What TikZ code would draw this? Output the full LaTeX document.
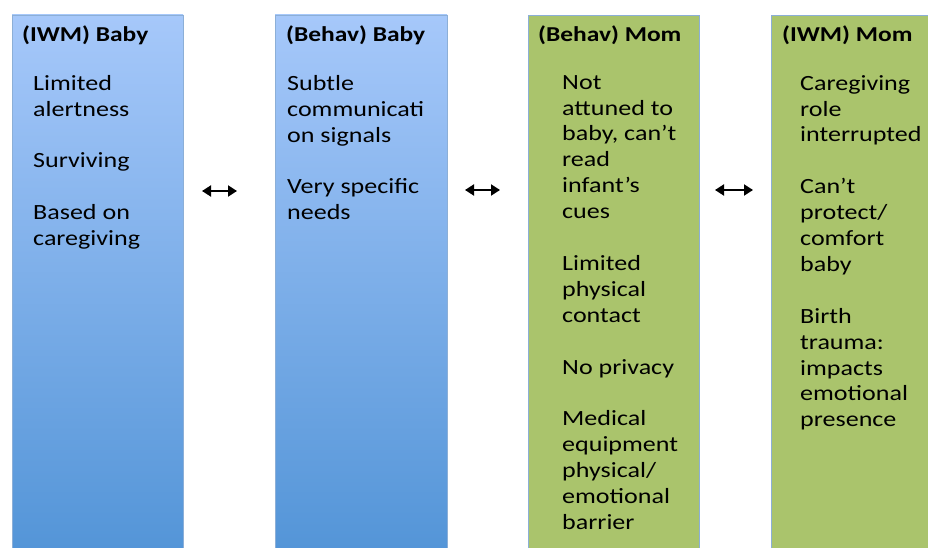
\documentclass[tikz,border=0pt]{standalone}
\usepackage{fontspec}
\setmainfont{Carlito}[FakeStretch=1.2]
\usetikzlibrary{arrows.meta}
\definecolor{bluetop}{RGB}{166,200,250}
\definecolor{bluebot}{RGB}{82,148,215}
\definecolor{momgreen}{RGB}{170,196,108}
\definecolor{edgeblue}{RGB}{140,175,215}
\tikzset{
  babycol/.style={draw=edgeblue, line width=0.8pt, top color=bluetop, bottom color=bluebot},
  momcol/.style={draw=edgeblue, line width=0.8pt, fill=momgreen},
  coltitle/.style={anchor=base west, inner sep=0pt, font=\fontsize{21.2}{25.9}\selectfont\bfseries},
  colbody/.style={anchor=north west, inner sep=0pt, align=left, font=\fontsize{21.7}{25.9}\selectfont},
  biarrow/.style={{Triangle[length=9pt,width=11pt]}-{Triangle[length=9pt,width=11pt]}, line width=2pt, black}
}
\begin{document}
\begin{tikzpicture}[x=1pt,y=-1pt]
\useasboundingbox (0,0) rectangle (928,548);
\clip (0,0) rectangle (928,548);
\fill[white] (0,0) rectangle (928,548);
% columns
\path[babycol] (12,15) rectangle (183,560);
\path[babycol] (275,15) rectangle (447,560);
\path[momcol] (528,15) rectangle (699,560);
\path[momcol] (771,15) rectangle (940,560);
% titles
\node[coltitle] (t1) at (22,42) {(IWM) Baby};
\node[coltitle] (t2) at (286,42) {(Behav) Baby};
\node[coltitle] (t3) at (538,42) {(Behav) Mom};
\node[coltitle] (t4) at (782,42) {(IWM) Mom};
% bodies
\node[colbody] (b1) at (33,75) {Limited\\alertness\\[25.9pt]Surviving\\[25.9pt]Based on\\caregiving};
\node[colbody] (b2) at (287,75) {Subtle\\communicati\\on signals\\[25.9pt]Very specific\\needs};
\node[colbody] (b3) at (562,75) {Not\\attuned to\\baby, can’t\\read\\infant’s\\cues\\[25.9pt]Limited\\physical\\contact\\[25.9pt]No privacy\\[25.9pt]Medical\\equipment\\physical/\\emotional\\barrier};
\node[colbody] (b4) at (800,75) {Caregiving\\role\\interrupted\\[25.9pt]Can’t\\protect/\\comfort\\baby\\[25.9pt]Birth\\trauma:\\impacts\\emotional\\presence};
% arrows
\coordinate (a1l) at (202,191);
\coordinate (a1r) at (237,191);
\coordinate (a2l) at (465,190);
\coordinate (a2r) at (500,190);
\coordinate (a3l) at (715,190);
\coordinate (a3r) at (753,190);
\draw[biarrow] (a1l) -- (a1r);
\draw[biarrow] (a2l) -- (a2r);
\draw[biarrow] (a3l) -- (a3r);
\end{tikzpicture}
\end{document}
